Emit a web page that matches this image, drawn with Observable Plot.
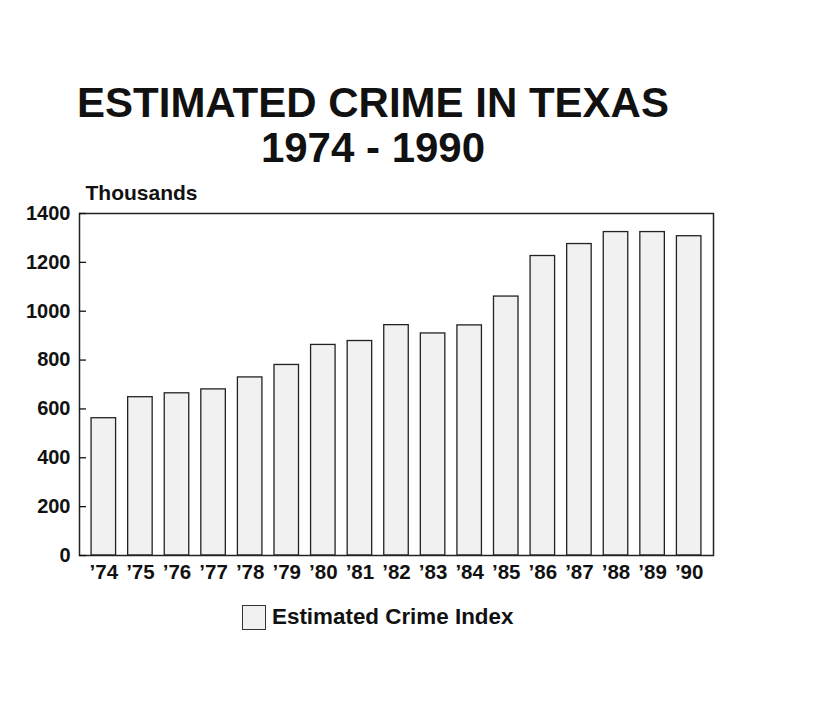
<!DOCTYPE html>
<html>
<head>
<meta charset="utf-8">
<script src="https://cdn.jsdelivr.net/npm/d3@7"></script>
<script src="https://cdn.jsdelivr.net/npm/@observablehq/plot@0.6"></script>
<style>
  html, body { margin: 0; padding: 0; background: #fff; }
  #wrap { position: relative; width: 830px; height: 721px; font-family: "Liberation Sans", Arial, Helvetica, sans-serif; color: #111; }
  #title { position: absolute; left: 0; top: 80px; width: 746px; text-align: center; font-weight: bold; font-size: 42px; line-height: 45px; }
  #chart { position: absolute; left: 0; top: 170px; }
  #legend { position: absolute; left: 242px; top: 604px; display: flex; align-items: center; font-weight: bold; font-size: 22.4px; }
  #legend .sw { width: 22px; height: 23px; background: #f1f1f1; border: 1.3px solid #333; margin-right: 6px; }
</style>
</head>
<body>
<div id="wrap">
  <div id="title">ESTIMATED CRIME IN TEXAS<br>1974 - 1990</div>
  <div id="chart"></div>
  <div id="legend"><div class="sw"></div><span>Estimated Crime Index</span></div>
</div>
<script>
const years = ["’74","’75","’76","’77","’78","’79","’80","’81","’82","’83","’84","’85","’86","’87","’88","’89","’90"];
const values = [562, 648, 664, 680, 729, 780, 862, 878, 943, 909, 942, 1060, 1226, 1275, 1324, 1324, 1307];
const yTicks = [0, 200, 400, 600, 800, 1000, 1200, 1400];
const unitLabel = "Thousands";

const data = years.map((y, i) => ({year: y, value: values[i]}));

const chart = Plot.plot({
  width: 830,
  height: 440,
  marginTop: 43,
  marginBottom: 55,
  marginLeft: 79,
  marginRight: 117,
  style: {fontFamily: '"Liberation Sans", Arial, Helvetica, sans-serif', fontWeight: "bold", fontSize: "20px", color: "#111", background: "transparent"},
  x: {domain: years, padding: 0.33, round: false, label: null},
  y: {domain: [0, 1400], label: null},
  marks: [
    Plot.barY(data, {x: "year", y: "value", fill: "#f1f1f1", stroke: "#222", strokeWidth: 1.3}),
    Plot.frame({stroke: "#222", strokeWidth: 1.5}),
    Plot.axisY(yTicks, {tickSize: 0, tickPadding: 9, fontSize: 20, fontWeight: "bold", tickFormat: "d", label: null}),
    Plot.axisY(yTicks, {tickSize: 7, dx: 7, tickFormat: () => "", strokeWidth: 1.3, label: null}),
    Plot.axisX({tickSize: 0, tickPadding: 9, fontSize: 20.5, fontWeight: "bold", label: null}),
    Plot.text([unitLabel], {frameAnchor: "top-left", textAnchor: "start", lineAnchor: "bottom", dx: 6, dy: -14, fontSize: 21, fontWeight: "bold", fill: "#111"})
  ]
});
document.getElementById("chart").appendChild(chart);
</script>
</body>
</html>
